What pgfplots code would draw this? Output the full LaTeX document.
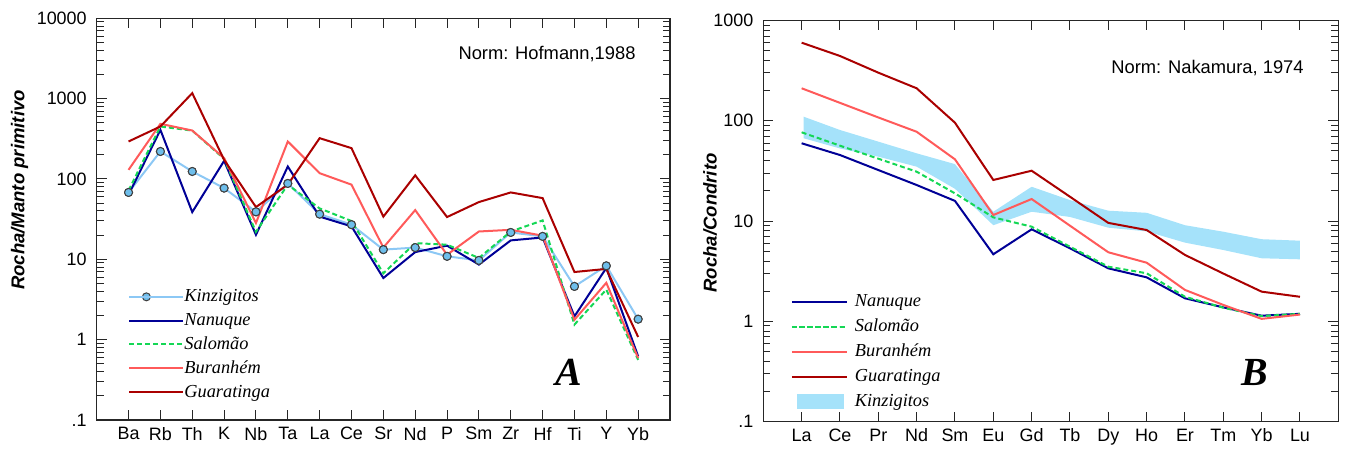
\documentclass[border=0pt]{standalone}
\usepackage{fontspec}
\setmainfont{Liberation Sans}
\newfontfamily\legfont{Liberation Serif}
\usepackage{pgfplots}
\usepackage{pgfplotstable}
\pgfplotsset{compat=1.18}

\definecolor{kline}{RGB}{140,200,245}
\definecolor{kmark}{RGB}{110,190,235}
\definecolor{nanu}{RGB}{0,0,150}
\definecolor{salo}{RGB}{20,215,85}
\definecolor{bura}{RGB}{255,90,90}
\definecolor{guar}{RGB}{170,0,0}
\definecolor{kband}{RGB}{165,226,250}

% spider diagram A (primitive mantle normalised)
\pgfplotstableread{
x kin nan sal bur gua
0  68   63.6 72   130  293
1  220  409  450  486  450
2  124  38.7 400  401  1170
3  77   168  178  182  173
4  39   20.2 22   28.3 44.7
5  88   143  85   293  85
6  36.5 34   43   118  322
7  27   25.7 30   85   242
8  13.2 5.85 6.7  14   34
9  14   12.3 15.9 41   111
10 10.9 14.8 15.2 11.4 33.6
11 9.7  8.6  10.4 22.2 51.6
12 21.6 17.2 22.2 23.3 68
13 19.3 18.7 30.5 19.7 57.8
14 4.6  1.95 1.54 1.77 6.95
15 8.3  7.8  4.2  5.1  7.6
16 1.8  0.62 0.56 0.59 1.08
}\dataA

% REE diagram B (chondrite normalised)
\pgfplotstableread{
x nan sal bur gua
0  59.7 76.8 211  601
1  45.6 56.5 151  443
2  32.3 41.9 108  302
3  22.9 31.1 77.8 211
4  15.9 18.9 41.3 95.7
5  4.67 10.9 11.5 25.7
6  8.28 8.8  16.6 31.8
7  5.36 5.56 9.0  17.5
8  3.38 3.51 4.89 9.6
9  2.75 3.02 3.85 8.15
10 1.70 1.76 2.06 4.6
11 1.38 1.37 1.46 3.0
12 1.14 1.13 1.06 1.98
13 1.19 1.19 1.17 1.76
}\dataB

% Kinzigitos envelope: upper edge then lower edge back
\pgfplotstableread{
x y
0.05 110
1  81
2  62
3  47.4
4  37
5  12.4
6  22
7  16.2
8  12.7
9  12.1
10 9.1
11 7.84
12 6.6
13 6.38
13 4.16
12 4.26
11 5.15
10 6.1
9  7.9
8  8.6
7  11
6  12.4
5  9.1
4  21
3  34.9
2  43.9
1  53
0.05 67
}\bandB

\pgfplotsset{
  legA/.style={
    legend image code/.code={%
      \draw[mark repeat=2,mark phase=2,##1] plot coordinates {(0bp,0bp) (8.5bp,0bp) (17bp,0bp)};
      \path (0bp,0bp) -- (27bp,0bp);},
  },
  legB/.style={
    legend image code/.code={%
      \draw[##1] (0bp,0bp) -- (20bp,0bp);
      \path (-3.75bp,0bp) -- (24bp,0bp);},
  },
}

\begin{document}
\begin{tikzpicture}
\useasboundingbox (0,0) rectangle (673.5bp,225bp);

\begin{axis}[legA,
  ymode=log, scale only axis,
  at={(48.35bp,15bp)}, anchor=south west,
  width=286.65bp, height=200.85bp,
  xmin=-1, xmax=17,
  ymin=0.1, ymax=10000,
  axis line style={black!85, line width=0.6bp},
  tick align=inside,
  major tick length=5bp, minor tick length=3.5bp,
  tick style={black!85, line width=0.5bp},
  tick label style={font=\fontsize{9}{10}\selectfont},
  yticklabel style={xshift=-1.5bp},
  xtick={0,...,16},
  xticklabels={Ba,Rb,Th,K,Nb,Ta,La,Ce,Sr,Nd,P,Sm,Zr,Hf,Ti,Y,Yb},
  ytick={0.1,1,10,100,1000,10000},
  yticklabels={.1,1,10,100,1000,10000},
  legend cell align=left,
  legend style={at={(0.0546,0.330)}, anchor=north west, draw=none, fill=none,
    font=\legfont\itshape\fontsize{9.2}{11}\selectfont,
    row sep=2.9bp, inner sep=0pt,
    nodes={inner sep=0pt, text height=7bp, text depth=2bp}},
]
\addplot[kline, line width=1bp, mark=*, mark size=2bp, mark options={fill=kmark, draw=black!75, line width=0.5bp}]
  table[x=x, y=kin] {\dataA};
\addlegendentry{Kinzigitos}
\addplot[nanu, line width=1bp] table[x=x, y=nan] {\dataA};
\addlegendentry{Nanuque}
\addplot[salo, line width=1bp, dash pattern=on 2.5bp off 1.5bp] table[x=x, y=sal] {\dataA};
\addlegendentry{Salomão}
\addplot[bura, line width=1bp] table[x=x, y=bur] {\dataA};
\addlegendentry{Buranhém}
\addplot[guar, line width=1bp] table[x=x, y=gua] {\dataA};
\addlegendentry{Guaratinga}
\addplot[only marks, mark=*, mark size=2bp, mark options={fill=kmark, draw=black!75, line width=0.5bp}, forget plot]
  table[x=x, y=kin] {\dataA};
\end{axis}

\begin{axis}[legB,
  ymode=log, scale only axis,
  at={(381.65bp,14.15bp)}, anchor=south west,
  width=287.5bp, height=200.6bp,
  xmin=-1, xmax=14,
  ymin=0.1, ymax=1000,
  axis line style={black!85, line width=0.6bp},
  tick align=inside,
  major tick length=5bp, minor tick length=3.5bp,
  tick style={black!85, line width=0.5bp},
  tick label style={font=\fontsize{9}{10}\selectfont},
  yticklabel style={xshift=-1.5bp},
  xtick={0,...,13},
  xticklabels={La,Ce,Pr,Nd,Sm,Eu,Gd,Tb,Dy,Ho,Er,Tm,Yb,Lu},
  ytick={0.1,1,10,100,1000},
  yticklabels={.1,1,10,100,1000},
  legend cell align=left,
  legend style={at={(0.036,0.322)}, anchor=north west, draw=none, fill=none,
    font=\legfont\itshape\fontsize{9.2}{11}\selectfont,
    row sep=3.5bp, inner sep=0pt,
    nodes={inner sep=0pt, text height=7bp, text depth=2bp}},
]
\addplot[fill=kband, draw=none, forget plot] table[x=x, y=y] {\bandB};
\addplot[nanu, line width=1bp] table[x=x, y=nan] {\dataB};
\addlegendentry{Nanuque}
\addplot[salo, line width=1bp, dash pattern=on 2.5bp off 1.5bp] table[x=x, y=sal] {\dataB};
\addlegendentry{Salomão}
\addplot[bura, line width=1bp] table[x=x, y=bur] {\dataB};
\addlegendentry{Buranhém}
\addplot[guar, line width=1bp] table[x=x, y=gua] {\dataB};
\addlegendentry{Guaratinga}
\addlegendimage{kband, line width=7.5bp, line cap=butt, shorten <=2.5bp, shorten >=1.5bp}
\addlegendentry{Kinzigitos}
\end{axis}

% titles, axis labels, panel letters
\node[rotate=90, font=\bfseries\itshape\fontsize{9.3}{11}\selectfont] at (9.75bp,130bp) {Rocha/Manto primitivo};
\node[rotate=90, font=\bfseries\itshape\fontsize{9.3}{11}\selectfont] at (355bp,113.5bp) {Rocha/Condrito};
\node[anchor=base, inner sep=0pt, font=\fontsize{9.2}{11}\selectfont] at (273.5bp,195.35bp) {Norm: Hofmann,1988};
\node[anchor=base, inner sep=0pt, font=\fontsize{9.2}{11}\selectfont] at (603.75bp,188bp) {Norm: Nakamura, 1974};
\node[anchor=base, inner sep=0pt, font=\legfont\bfseries\itshape\fontsize{20}{22}\selectfont] at (284.2bp,32.5bp) {A};
\node[anchor=base, inner sep=0pt, font=\legfont\bfseries\itshape\fontsize{20}{22}\selectfont] at (627.5bp,32.5bp) {B};
\end{tikzpicture}
\end{document}
